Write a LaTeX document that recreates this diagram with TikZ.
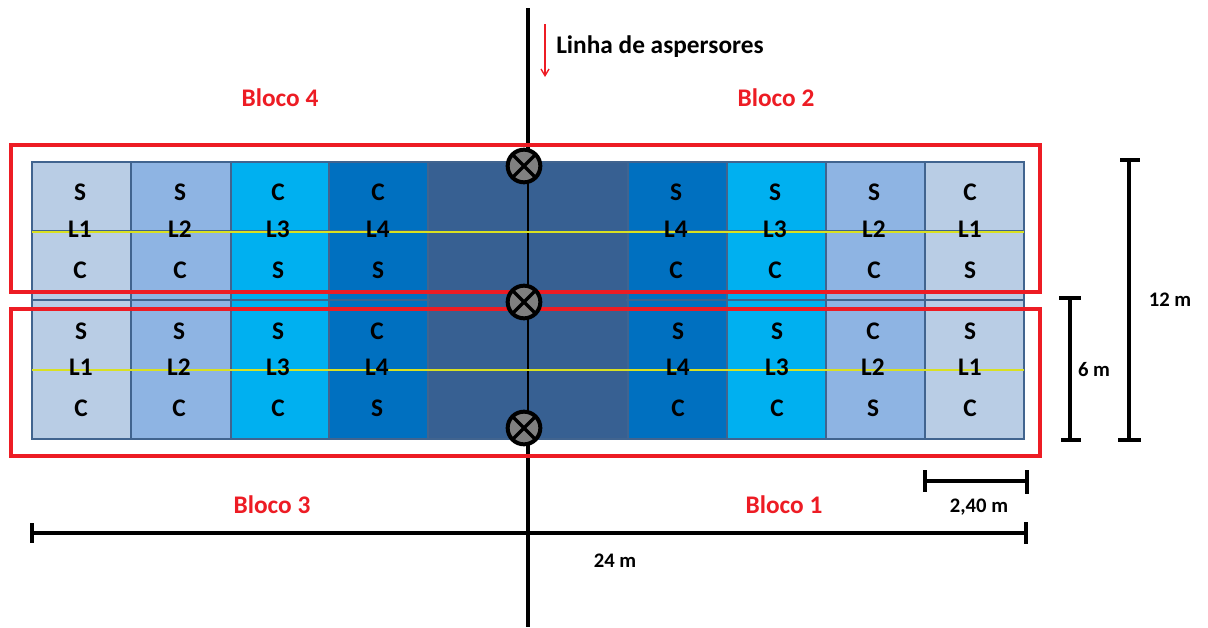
\documentclass[tikz,border=0pt]{standalone}
\usepackage{fontspec}
\usetikzlibrary{arrows.meta}
\setmainfont{Carlito}
\definecolor{cA}{HTML}{B9CDE5}
\definecolor{cB}{HTML}{8EB4E3}
\definecolor{cC}{HTML}{00B0F0}
\definecolor{cD}{HTML}{0070C0}
\definecolor{cE}{HTML}{376092}
\definecolor{edgeC}{HTML}{41648F}
\definecolor{redC}{HTML}{ED1C24}
\definecolor{yelC}{HTML}{D9E021}
\tikzset{
  x=0.75pt,y=-0.75pt,
  lbl/.style={font=\fontsize{19}{19}\selectfont\bfseries,text=black,inner sep=0pt},
  dimlbl/.style={font=\fontsize{15.5}{15.5}\selectfont\bfseries,text=black,inner sep=0pt},
  redlbl/.style={font=\fontsize{19}{19}\selectfont\bfseries,text=redC,inner sep=0pt},
  dimline/.style={draw=black,line width=3pt},
  redbox/.style={draw=redC,line width=3pt,fill=none},
  cell/.style={draw=edgeC,line width=2.2pt},
  yline/.style={draw=yelC,line width=1.6pt},
  spr/.style={circle,draw=black,line width=3pt,fill=black!50,minimum size=24.5pt,inner sep=0pt,
    path picture={
      \draw[black,line width=2.6pt] (path picture bounding box.north west)--(path picture bounding box.south east)
        (path picture bounding box.north east)--(path picture bounding box.south west);}},
}
\begin{document}
\begin{tikzpicture}
\useasboundingbox (0,0) rectangle (1208,628);
% cells
\foreach \xa/\xb/\col [count=\i] in {32/131/cA,131/231/cB,231/329/cC,329/428/cD,428/528/cE,528/628/cE,628/727/cD,727/826/cC,826/925/cB,925/1024/cA}{
  \draw[cell,fill=\col] (\xa,162) rectangle (\xb,300);
  \draw[cell,fill=\col] (\xa,300) rectangle (\xb,439);
}
\foreach \xa/\xb/\col in {32/131/cA,131/231/cB,231/329/cC,329/428/cD,628/727/cD,727/826/cC,826/925/cB,925/1024/cA}{
  \draw[edgeC,line width=1.2pt] (\xa,231)--(\xb,231);
  \draw[edgeC,line width=1.2pt] (\xa,370)--(\xb,370);
}
\fill[cE] (430,163) rectangle (626,438);
% vertical sprinkler line
\coordinate (vtop) at (528,8);
\coordinate (vbot) at (528,627);
\draw[black,line width=3pt] (vtop)--(528,150);
\draw[black,line width=2.2pt] (528,150)--(528,445);
\draw[black,line width=3pt] (528,445)--(vbot);
% yellow lateral lines
\coordinate (y1a) at (32,232); \coordinate (y1b) at (1024,232);
\coordinate (y2a) at (32,370); \coordinate (y2b) at (1024,370);
\draw[yline] (y1a)--(y1b);
\draw[yline] (y2a)--(y2b);
% top labels
\foreach \x/\a/\b/\c in {80/S/L1/C,180/S/L2/C,278/C/L3/S,378/C/L4/S,676/S/L4/C,775/S/L3/C,874/S/L2/C,970/C/L1/S}{
  \node[lbl] at (\x,192) {\a};
  \node[lbl] at (\x,229) {\b};
  \node[lbl] at (\x,270) {\c};
}
% bottom labels
\foreach \x/\a/\b/\c in {81/S/L1/C,179/S/L2/C,278/S/L3/C,377/C/L4/S,678/S/L4/C,777/S/L3/C,873/C/L2/S,970/S/L1/C}{
  \node[lbl] at (\x,331) {\a};
  \node[lbl] at (\x,367) {\b};
  \node[lbl] at (\x,408) {\c};
}
% red boxes
\draw[redbox] (11,145) rectangle (1040,292);
\draw[redbox] (11,309) rectangle (1040,456);
% sprinklers
\node[spr] (s1) at (524,166) {};
\node[spr] (s2) at (524,302) {};
\node[spr] (s3) at (524,428) {};
% title and arrow
\coordinate (arrA) at (545,24);
\coordinate (arrB) at (545,77);
\draw[-{Straight Barb[length=5pt,width=6pt]},draw=redC,line width=1pt] (arrA)--(arrB);
\node[lbl,anchor=west] (title) at (556,47) {Linha de aspersores};
\node[redlbl] (b4) at (280,98) {Bloco 4};
\node[redlbl] (b2) at (776,98) {Bloco 2};
\node[redlbl] (b3) at (272,505) {Bloco 3};
\node[redlbl] (b1) at (784,505) {Bloco 1};
% dimensions
\coordinate (d12a) at (1129,160); \coordinate (d12b) at (1129,440);
\draw[dimline] (d12a)--(d12b) (1120,160)--(1140,160) (1118,440)--(1141,440);
\node[dimlbl] (l12) at (1170,300) {12 m};
\coordinate (d6a) at (1070,298); \coordinate (d6b) at (1070,440);
\draw[dimline] (d6a)--(d6b) (1059,298)--(1081,298) (1061,440)--(1081,440);
\node[dimlbl] (l6) at (1094,370) {6 m};
\coordinate (d2a) at (925,481); \coordinate (d2b) at (1027,481);
\draw[dimline] (d2a)--(d2b) (925,470)--(925,492) (1027,470)--(1027,494);
\node[dimlbl] (l2) at (979,507) {2,40 m};
\coordinate (d24a) at (32,533); \coordinate (d24b) at (1026,533);
\draw[dimline] (d24a)--(d24b) (32,523)--(32,543) (1026,522)--(1026,544);
\node[dimlbl] (l24) at (615,561) {24 m};
\end{tikzpicture}
\end{document}
